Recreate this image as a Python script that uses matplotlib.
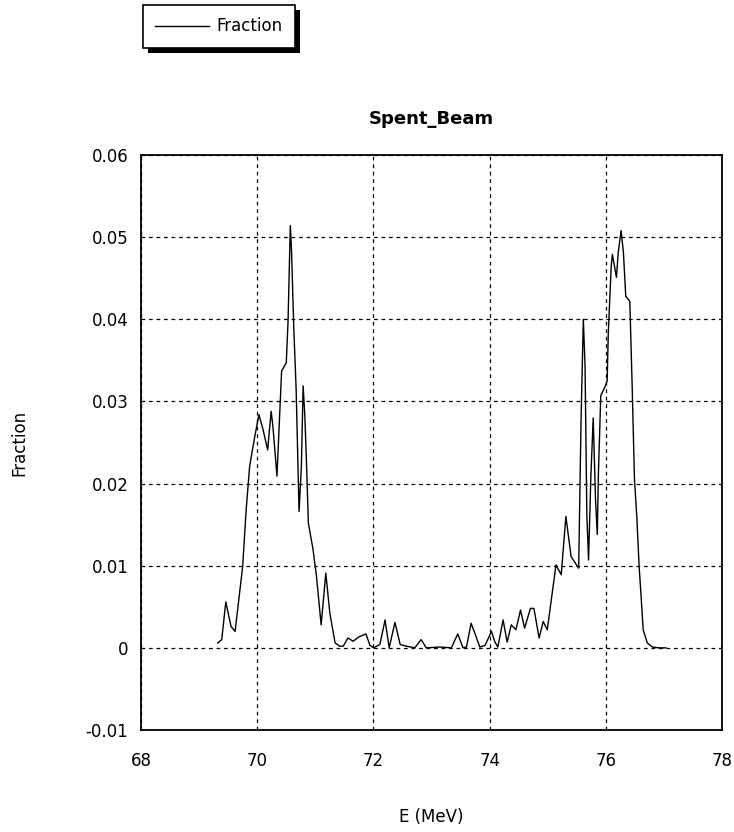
import numpy as np
import matplotlib.pyplot as plt
from matplotlib.patches import Rectangle

plt.rcParams['font.family'] = ['DejaVu Sans']

# energy (MeV) and fraction
energy = [69.32, 69.39, 69.46, 69.55, 69.62, 69.75, 69.81, 69.87, 69.95, 70.03,
          70.10, 70.18, 70.24, 70.27, 70.34, 70.42, 70.50, 70.53, 70.57, 70.59,
          70.63, 70.67, 70.72, 70.76, 70.79, 70.82, 70.85, 70.88, 70.96, 71.02,
          71.10, 71.15, 71.18, 71.25, 71.34, 71.42, 71.48, 71.56, 71.65, 71.74,
          71.87, 71.94, 72.00, 72.11, 72.20, 72.27, 72.37, 72.46, 72.57, 72.71,
          72.82, 72.91, 73.14, 73.34, 73.45, 73.54, 73.60, 73.68, 73.83, 73.92,
          74.03, 74.09, 74.14, 74.23, 74.30, 74.37, 74.45, 74.53, 74.60, 74.70,
          74.76, 74.85, 74.92, 74.99, 75.14, 75.23, 75.31, 75.40, 75.53, 75.57,
          75.61, 75.64, 75.67, 75.70, 75.74, 75.78, 75.82, 75.85, 75.87, 75.91,
          75.99, 76.02, 76.04, 76.09, 76.11, 76.18, 76.21, 76.26, 76.30, 76.34,
          76.41, 76.45, 76.49, 76.53, 76.57, 76.60, 76.64, 76.71, 76.80, 76.91,
          77.03]
fraction = [0.0006, 0.0010, 0.0056, 0.0026, 0.0020, 0.0099, 0.0168, 0.0221, 0.0254, 0.0284,
            0.0266, 0.0241, 0.0288, 0.0270, 0.0209, 0.0337, 0.0347, 0.0396, 0.0514, 0.0485,
            0.0388, 0.0315, 0.0166, 0.0221, 0.0319, 0.0282, 0.0221, 0.0152, 0.0120, 0.0087,
            0.0028, 0.0067, 0.0091, 0.0042, 0.0006, 0.0002, 0.0002, 0.0012, 0.0008, 0.0013,
            0.0017, 0.0003, 0.0000, 0.0004, 0.0034, 0.0000, 0.0031, 0.0004, 0.0002, 0.0000,
            0.0010, 0.0000, 0.0001, 0.0000, 0.0017, 0.0000, 0.0001, 0.0030, 0.0001, 0.0003,
            0.0020, 0.0007, 0.0001, 0.0034, 0.0007, 0.0028, 0.0022, 0.0046, 0.0024, 0.0048,
            0.0048, 0.0012, 0.0032, 0.0022, 0.0101, 0.0089, 0.0160, 0.0111, 0.0097, 0.0274,
            0.0400, 0.0343, 0.0164, 0.0107, 0.0209, 0.0280, 0.0180, 0.0138, 0.0213, 0.0307,
            0.0319, 0.0325, 0.0384, 0.0465, 0.0479, 0.0451, 0.0481, 0.0508, 0.0481, 0.0428,
            0.0422, 0.0319, 0.0205, 0.0160, 0.0099, 0.0067, 0.0022, 0.0006, 0.0001, 0.0000,
            0.0000]

x_ticks = [68, 70, 72, 74, 76, 78]
y_ticks = [-0.01, 0, 0.01, 0.02, 0.03, 0.04, 0.05, 0.06]
y_labels = ['-0.01', '0', '0.01', '0.02', '0.03', '0.04', '0.05', '0.06']

fig = plt.figure(figsize=(7.34, 8.32), dpi=100)
ax = fig.add_axes([0.192, 0.1226, 0.792, 0.6911])

line, = ax.plot(energy, fraction, color='black', linewidth=1.0, label='Fraction')

ax.set_xlim(68, 78)
ax.set_ylim(-0.01, 0.06)
ax.set_xticks(x_ticks)
ax.set_yticks(y_ticks)
ax.set_yticklabels(y_labels)
ax.tick_params(length=0, labelsize=12)
ax.tick_params(axis='x', pad=16)
ax.tick_params(axis='y', pad=9)
ax.grid(True, color='black', linestyle=(0, (3, 3)), linewidth=0.9)
for s in ax.spines.values():
    s.set_linewidth(1.3)

ax.set_title('Spent_Beam', fontsize=13, fontweight='bold', pad=22)
ax.set_xlabel('E (MeV)', fontsize=12, labelpad=27)
ax.set_ylabel('Fraction', fontsize=12, labelpad=41)

leg = fig.legend(handles=[line], loc='upper left', bbox_to_anchor=(0.1948, 0.994),
                 borderaxespad=0, fontsize=12, fancybox=False, edgecolor='black',
                 framealpha=1, handlelength=3.2, borderpad=0.75, handletextpad=0.45)
leg.get_frame().set_linewidth(1.2)

# solid black drop shadow behind the legend box
fig.canvas.draw()
bb = leg.get_window_extent().transformed(fig.transFigure.inverted())
dx, dy = 5 / 734, 5 / 832
fig.patches.append(Rectangle((bb.x0 + dx, bb.y0 - dy), bb.width, bb.height,
                             transform=fig.transFigure, facecolor='black',
                             edgecolor='none', zorder=4))

fig.savefig('out.png', dpi=100)
